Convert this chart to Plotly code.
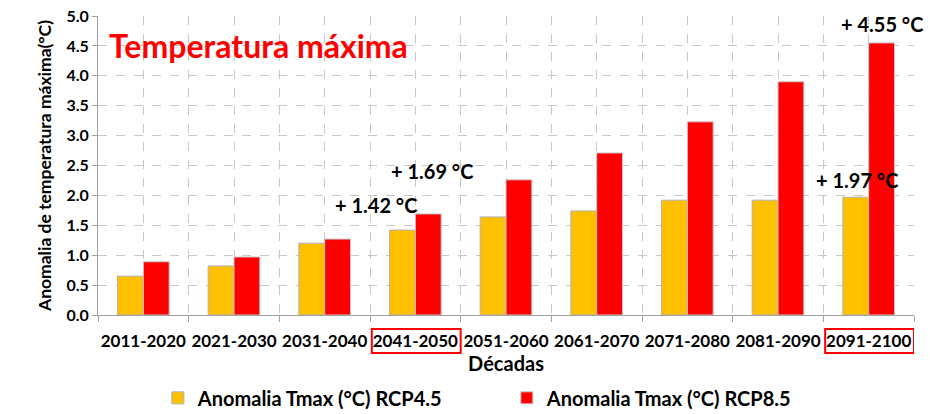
import plotly.graph_objects as go

decadas = ['2011-2020', '2021-2030', '2031-2040', '2041-2050', '2051-2060',
           '2061-2070', '2071-2080', '2081-2090', '2091-2100']
rcp45 = [0.65, 0.82, 1.20, 1.42, 1.64, 1.74, 1.92, 1.92, 1.97]
rcp85 = [0.89, 0.97, 1.27, 1.69, 2.26, 2.71, 3.23, 3.90, 4.55]
destacadas = ['2041-2050', '2091-2100']

pos = list(range(len(decadas)))
fuente = 'Lato'

fig = go.Figure()

fig.add_trace(go.Bar(
    x=pos, y=rcp45,
    name='Anomalia Tmax (°C) RCP4.5',
    marker=dict(color='#FFC000', line=dict(color='#b0b0b0', width=1))
))
fig.add_trace(go.Bar(
    x=pos, y=rcp85,
    name='Anomalia Tmax (°C) RCP8.5',
    marker=dict(color='#FF0000', line=dict(color='#c8c8c8', width=1))
))

# etiquetas de anomalía
etiquetas = [
    (3, rcp45[3], -39, 25),
    (3, rcp85[3], 17, 43),
    (8, rcp45[8], -12, 17),
    (8, rcp85[8], 13, 19),
]
for i, v, dx, dy in etiquetas:
    fig.add_annotation(
        x=i, y=v, xref='x', yref='y',
        text='+ %.2f °C' % v, showarrow=False,
        xshift=dx, yshift=dy,
        font=dict(family=fuente, size=20, color='black', weight='bold')
    )

fig.add_annotation(
    x=0.011, y=0.903, xref='paper', yref='paper',
    xanchor='left', yanchor='middle',
    text='Temperatura máxima', showarrow=False,
    font=dict(family=fuente, size=32, color='#FF0000', weight='bold')
)

for d in destacadas:
    i = decadas.index(d)
    fig.add_shape(
        type='rect', xref='x', yref='paper',
        x0=i - 0.48, x1=i + 0.5, y0=-0.047, y1=-0.127,
        line=dict(color='#FF0000', width=2)
    )

fig.update_layout(
    width=930, height=414,
    margin=dict(l=98, r=16, t=16, b=99),
    plot_bgcolor='white',
    paper_bgcolor='white',
    barmode='group',
    bargap=0.43,
    bargroupgap=0,
    font=dict(family=fuente, color='black'),
    legend=dict(
        orientation='h',
        xref='container', yref='container',
        x=0.545, y=0.039, xanchor='center', yanchor='middle',
        font=dict(family=fuente, size=20, weight='bold'),
        entrywidth=304,
    ),
    xaxis=dict(
        automargin=False,
        range=[-0.5, len(decadas) - 0.5],
        tickvals=pos, ticktext=decadas,
        tickfont=dict(family=fuente, size=17, weight='bold'),
        ticklabelstandoff=11,
        showgrid=True, gridcolor='#c8c8c8', griddash='dash', gridwidth=1,
        showline=True, linecolor='#a0a0a0', linewidth=1,
        ticks='',
        minor=dict(
            tickvals=[p - 0.5 for p in pos] + [len(decadas) - 0.5],
            showgrid=True, gridcolor='#c8c8c8', griddash='dash',
            ticks='outside', ticklen=6, tickcolor='#a0a0a0'
        ),
        title=dict(text='Décadas', standoff=6,
                   font=dict(family=fuente, size=20, weight='bold')),
        zeroline=False,
    ),
    yaxis=dict(
        automargin=False,
        range=[0, 5],
        dtick=0.5, tickformat='.1f',
        tickfont=dict(family=fuente, size=16, weight='bold'),
        showgrid=True, gridcolor='#c8c8c8', griddash='dash', gridwidth=1,
        showline=True, linecolor='#a0a0a0', linewidth=1,
        ticks='outside', ticklen=5, tickcolor='#a0a0a0',
        title=dict(text='Anomalia de temperatura máxima(°C)', standoff=10,
                   font=dict(family=fuente, size=17.5, weight='bold')),
        zeroline=False,
    ),
)

fig.write_html('out.html', config={'displayModeBar': False},
               post_script="document.body.style.margin='0';")
